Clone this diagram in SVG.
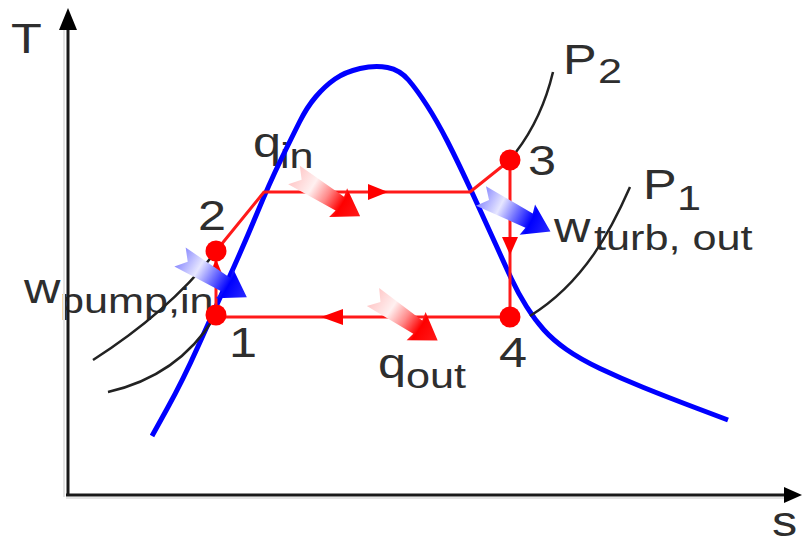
<svg xmlns="http://www.w3.org/2000/svg" width="802" height="546" viewBox="0 0 802 546">
<style>
.t{font-family:"Liberation Sans",Arial,sans-serif;fill:#2e2e2e}
.big{font-size:42px}
.sub{font-size:36px}
.ax{stroke:#1a1a1a;stroke-width:3;fill:none}
.axs{stroke:#e4e4e4;stroke-width:2;fill:none}
.dome{stroke:#0000ff;stroke-width:5;fill:none;stroke-linejoin:round}
.cyc{stroke:#ff1a1a;stroke-width:3;fill:none;stroke-linejoin:round}
.pr{stroke:#222;stroke-width:2.5;fill:none}
.pt{fill:#ff0000}
.ah{fill:#ff0000}
.axh{fill:#000}
</style>
<defs>
<linearGradient id="gRed" x1="0" y1="0" x2="1" y2="0">
<stop offset="0" stop-color="#ffc8c8"/>
<stop offset="0.28" stop-color="#fff0f0"/>
<stop offset="0.5" stop-color="#ff8a8a"/>
<stop offset="0.72" stop-color="#ff0000"/>
<stop offset="1" stop-color="#ff1a1a"/>
</linearGradient>
<linearGradient id="gBlue" x1="0" y1="0" x2="1" y2="0">
<stop offset="0" stop-color="#8c8cff"/>
<stop offset="0.28" stop-color="#e6e6ff"/>
<stop offset="0.5" stop-color="#7070ff"/>
<stop offset="0.72" stop-color="#0000ff"/>
<stop offset="1" stop-color="#2a2aff"/>
</linearGradient>
<path id="fat" d="M0,-11 L54,-8 L52,-17 L78,0 L52,17 L54,8 L0,11 L9,0 Z"/>
</defs>

<g id="labels">
<text class="t big" transform="translate(11,53) scale(1.2,1)">T</text>
<text class="t big" transform="translate(772,536) scale(1.2,1)">s</text>
<text class="t big" transform="translate(24,303) scale(1.2,1)">w</text>
<text class="t sub" transform="translate(60,313) scale(1.2,1)">pump,in</text>
<text class="t big" transform="translate(554,242) scale(1.2,1)">w</text>
<text class="t sub" transform="translate(594,250) scale(1.2,1)">turb, out</text>
<text class="t big" transform="translate(253,157) scale(1.2,1)">q</text>
<text class="t sub" transform="translate(280,168) scale(1.2,1)">in</text>
<text class="t big" transform="translate(378,378) scale(1.2,1)">q</text>
<text class="t sub" transform="translate(406,388) scale(1.2,1)">out</text>
<text class="t big" transform="translate(563,74) scale(1.2,1)">P</text>
<text class="t sub" transform="translate(598,83) scale(1.2,1)">2</text>
<text class="t big" transform="translate(643,199) scale(1.2,1)">P</text>
<text class="t sub" transform="translate(677,210) scale(1.2,1)">1</text>
<text class="t big" transform="translate(528,175) scale(1.2,1)">3</text>
<text class="t big" transform="translate(198,230) scale(1.2,1)">2</text>
<text class="t big" transform="translate(229,357) scale(1.2,1)">1</text>
<text class="t big" transform="translate(499,367) scale(1.2,1)">4</text>
</g>

<g id="axes">
<line class="axs" x1="64" y1="30" x2="64" y2="497"/>
<line class="axs" x1="66" y1="498" x2="786" y2="498"/>
<line class="ax" x1="68" y1="24" x2="68" y2="495"/>
<line class="ax" x1="66" y1="495" x2="788" y2="495"/>
<polygon class="axh" points="68,8 59,30 77,30"/>
<polygon class="axh" points="802,495 784,487 784,503"/>
</g>

<g id="saturation-dome">
<path class="dome" d="M152,436 L167.5,408 Q183,380 198,346.5 Q213,313 228,280 Q243,247 256.5,214.5 Q270,182 281,159.5 Q292,137 299.5,122 Q307,107 316,96.5 Q325,86 335,79 Q345,72 360,68.5 Q375,65 387.5,67.5 Q400,70 408.5,80 Q417,90 427,105.5 Q437,121 447.5,141.5 Q458,162 472.5,193.5 Q487,225 496,245 Q505,265 511.5,279 Q518,293 526.5,306.5 Q535,320 544,330 Q553,340 566.5,349.5 Q580,359 600,368.5 Q620,378 643.5,387.5 Q667,397 697.5,408.5 L728,420"/>
</g>

<g id="pressure-lines">
<path class="pr" d="M553,72 Q542,118 516,152"/>
<path class="pr" d="M630,187 C612,228 585,282 530,316"/>
<path class="pr" d="M93,360 Q168,312 214,254"/>
<path class="pr" d="M108,392 Q178,376 214,318"/>
</g>

<g id="connectors">
<line class="cyc" x1="216" y1="315" x2="216" y2="251"/>
<polyline class="cyc" points="216,251 264,192 470,192 510,160"/>
<line class="cyc" x1="510" y1="160" x2="510" y2="317"/>
<line class="cyc" x1="510" y1="317" x2="216" y2="317"/>
<polygon class="ah" points="216,259 209,276 223,276"/>
<polygon class="ah" points="388,192 368,184 368,200"/>
<polygon class="ah" points="510,255 502,237 518,237"/>
<polygon class="ah" points="321,317 343,309 343,325"/>
</g>

<g id="energy-arrows">
<use id="arrow-qin" href="#fat" fill="url(#gRed)" transform="translate(294,175) rotate(32)"/>
<use id="arrow-qout" href="#fat" fill="url(#gRed)" transform="translate(373,297) rotate(34)"/>
<use id="arrow-wturb" href="#fat" fill="url(#gBlue)" transform="translate(481,196) rotate(27)"/>
<use id="arrow-wpump" href="#fat" fill="url(#gBlue)" transform="translate(180,257) rotate(31)"/>
</g>

<g id="state-1"><circle class="pt" cx="216" cy="315" r="10.5"/></g>
<g id="state-2"><circle class="pt" cx="216" cy="251" r="10.5"/></g>
<g id="state-3"><circle class="pt" cx="510" cy="160" r="10.5"/></g>
<g id="state-4"><circle class="pt" cx="510" cy="317" r="10.5"/></g>
</svg>
